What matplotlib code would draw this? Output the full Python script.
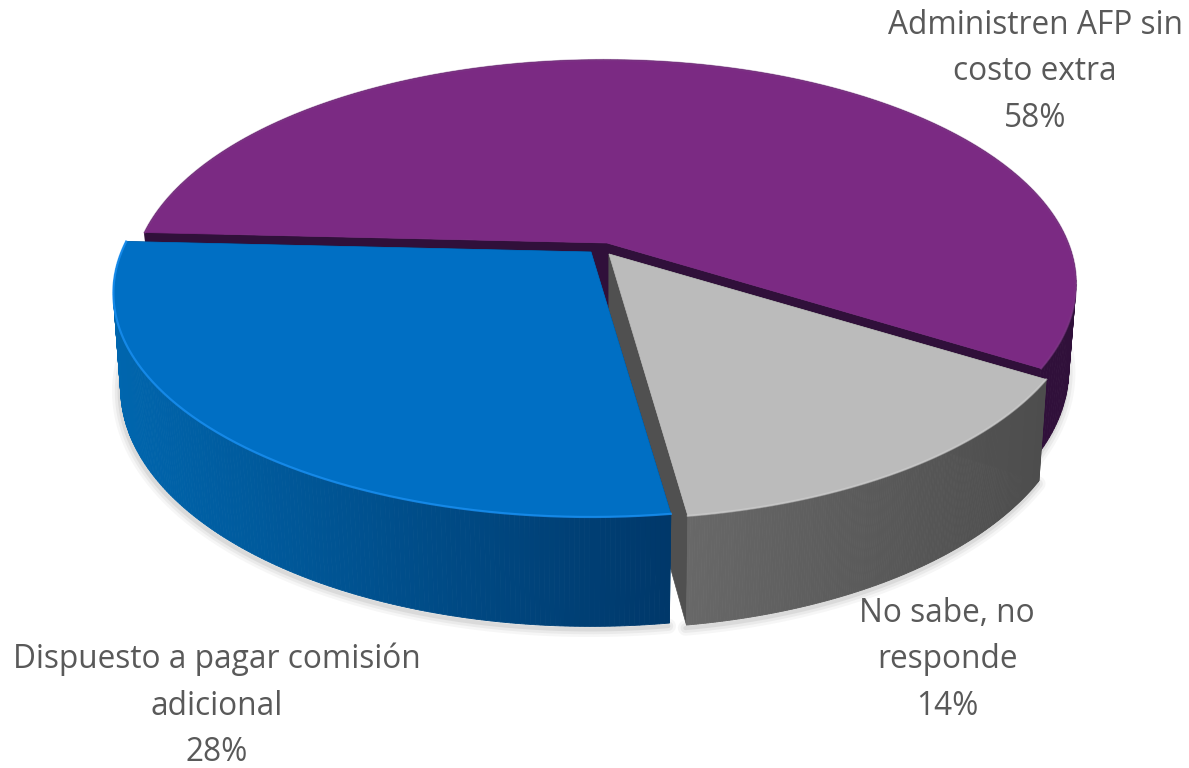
#! /usr/bin/env python3
# exploded 3d pie, drawn by hand because matplotlib has no 3d pie
import numpy as np
import matplotlib
matplotlib.use('Agg')
import matplotlib.pyplot as plt
from matplotlib.colors import to_rgb
from matplotlib.patches import Polygon

labels = ['Administren AFP sin\ncosto extra', 'No sabe, no\nresponde', 'Dispuesto a pagar comisión\nadicional']
values = [58, 14, 28]

start_angle = 177.2
apex = [(607, 243), (609, 254), (591, 252)]
disc_dx = [-3, 0, 0]
x_scale = [1.0, 1.0, 1.012]
depth_scale = [0.9, 1.0, 1.0]
label_pos = [(1035, 72), (947, 660), (217, 706)]

top_colors = ['#7B2A83', '#BBBBBB', '#006FC4']
rim_colors = ['#7E3A86', '#D4D4D4', '#1A90F2']
rim_alpha = [0.5, 0.5, 0.8]
wall_left = ['#30103A', '#686868', '#0066AE']
wall_right = ['#30103A', '#4D4D4D', '#00386A']
cut_colors = ['#30103A', '#505050', '#00386A']
text_color = '#595959'

RX, RY, K, M, DEPTH = 464.0, 216.5, 0.183, 0.015, 95.0


def project(i, ang, z=0.0):
    u, v = np.cos(np.radians(ang)), np.sin(np.radians(ang))
    w = 1 + K * v + M * z
    x = apex[i][0] + disc_dx[i] + RX * x_scale[i] * u / w
    y = apex[i][1] - RY * v / w + DEPTH * depth_scale[i] * z / w
    return x, y


def project_apex(i, z=0.0):
    w = 1 + M * z
    return apex[i][0], apex[i][1] + DEPTH * depth_scale[i] * z / w


fig = plt.figure(figsize=(11.89, 7.68), dpi=100)
ax = fig.add_axes([0, 0, 1, 1])
ax.set_xlim(0, 1189)
ax.set_ylim(768, 0)
ax.axis('off')

# slice angles, clockwise from the start angle
spans = np.array(values) / sum(values) * 360
ends = start_angle - np.cumsum(spans)
starts = ends + spans


def draw_slice(i):
    angs = np.linspace(starts[i], ends[i], 200)
    top = np.array([project(i, a) for a in angs])
    bot = np.array([project(i, a, 1.0) for a in angs])
    ap0, ap1 = project_apex(i), project_apex(i, 1.0)

    # soft shadow under the wall
    front = bot[np.sin(np.radians(angs)) < 0.3]
    for lw, al in ((11, 0.05), (7, 0.07), (3, 0.1)):
        ax.plot(front[:, 0] - 1, front[:, 1] + 3, color='#555555', lw=lw, alpha=al,
                solid_capstyle='round', zorder=i * 10)

    # cut faces
    for edge_t, edge_b in ((top[0], bot[0]), (top[-1], bot[-1])):
        ax.add_patch(Polygon([ap0, edge_t, edge_b, ap1], closed=True, fc=cut_colors[i],
                             ec=cut_colors[i], lw=0.5, zorder=i * 10 + 1))

    # outer wall, shaded strip by strip from left to right
    cl, cr = np.array(to_rgb(wall_left[i])), np.array(to_rgb(wall_right[i]))
    xmin, xmax = top[:, 0].min(), top[:, 0].max()
    order = np.argsort(-np.sin(np.radians(angs[:-1])))
    for j in order:
        t = (top[j, 0] - xmin) / (xmax - xmin)
        col = cl + (cr - cl) * t
        ax.add_patch(Polygon([top[j], top[j + 1], bot[j + 1], bot[j]], closed=True,
                             fc=col, ec=col, lw=0.6, zorder=i * 10 + 2))

    # top face with a light bevel on the rim
    ax.add_patch(Polygon(np.vstack([[ap0], top]), closed=True, fc=top_colors[i],
                         ec=top_colors[i], lw=0.5, zorder=i * 10 + 3))
    ax.plot(top[:, 0], top[:, 1], color=rim_colors[i], lw=1.6, alpha=rim_alpha[i], zorder=i * 10 + 4)


# back slice first, blue last so that it covers the cut of the gray one
for i in range(len(values)):
    draw_slice(i)

for i, lab in enumerate(labels):
    ax.text(label_pos[i][0], label_pos[i][1], f'{lab}\n{values[i]}%', ha='center', va='center',
            fontsize=22.8, family='Open Sans', color=text_color, linespacing=1.53, zorder=100)

fig.savefig('out.png', dpi=100)
